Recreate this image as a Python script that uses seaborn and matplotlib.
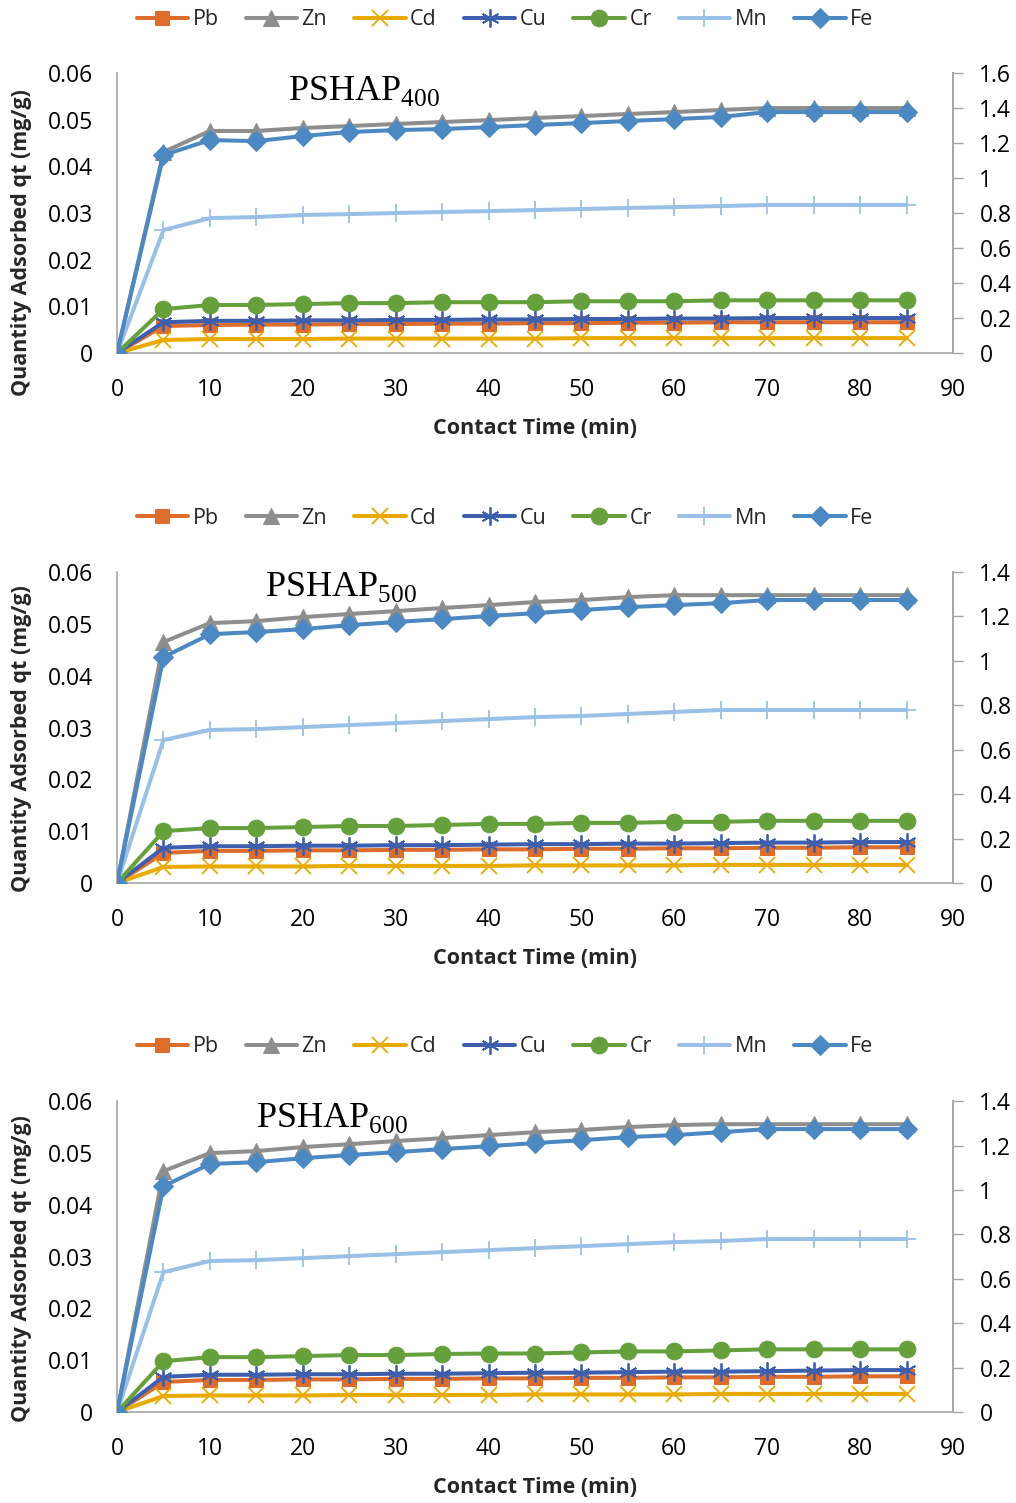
import matplotlib
matplotlib.use('Agg')
import matplotlib.pyplot as plt
import seaborn as sns

# Contact time (min)
time = [0, 5, 10, 15, 20, 25, 30, 35, 40, 45, 50, 55, 60, 65, 70, 75, 80, 85]

# PSHAP400 (Pb, Cd, Cu, Cr on left axis; Zn, Mn, Fe on right axis)
pb_400 = [0, 0.0058, 0.0060, 0.0061, 0.0061, 0.0062, 0.0062, 0.0063, 0.0063, 0.0064, 0.0064, 0.0065, 0.0065, 0.0066, 0.0066, 0.0066, 0.0066, 0.0066]
cd_400 = [0, 0.0028, 0.0030, 0.0030, 0.0030, 0.0031, 0.0031, 0.0031, 0.0031, 0.0031, 0.0032, 0.0032, 0.0032, 0.0032, 0.0032, 0.0032, 0.0032, 0.0032]
cu_400 = [0, 0.0066, 0.0069, 0.0069, 0.0070, 0.0070, 0.0071, 0.0071, 0.0072, 0.0072, 0.0073, 0.0073, 0.0074, 0.0074, 0.0075, 0.0075, 0.0075, 0.0075]
cr_400 = [0, 0.0094, 0.0103, 0.0103, 0.0105, 0.0107, 0.0107, 0.0109, 0.0109, 0.0109, 0.0111, 0.0111, 0.0111, 0.0113, 0.0113, 0.0113, 0.0113, 0.0113]
zn_400 = [0, 1.149, 1.269, 1.269, 1.286, 1.297, 1.309, 1.320, 1.331, 1.343, 1.354, 1.366, 1.377, 1.389, 1.400, 1.400, 1.400, 1.400]
mn_400 = [0, 0.703, 0.771, 0.777, 0.789, 0.794, 0.800, 0.806, 0.811, 0.817, 0.823, 0.829, 0.834, 0.840, 0.846, 0.846, 0.846, 0.846]
fe_400 = [0, 1.131, 1.217, 1.211, 1.240, 1.263, 1.274, 1.280, 1.291, 1.303, 1.314, 1.326, 1.337, 1.349, 1.377, 1.377, 1.377, 1.377]

# PSHAP500
pb_500 = [0, 0.0058, 0.0062, 0.0062, 0.0063, 0.0063, 0.0064, 0.0064, 0.0065, 0.0065, 0.0066, 0.0066, 0.0067, 0.0067, 0.0068, 0.0068, 0.0069, 0.0069]
cd_500 = [0, 0.0031, 0.0032, 0.0032, 0.0032, 0.0033, 0.0033, 0.0033, 0.0033, 0.0034, 0.0034, 0.0034, 0.0034, 0.0035, 0.0035, 0.0035, 0.0035, 0.0035]
cu_500 = [0, 0.0068, 0.0071, 0.0071, 0.0072, 0.0072, 0.0073, 0.0073, 0.0074, 0.0075, 0.0075, 0.0076, 0.0076, 0.0077, 0.0078, 0.0078, 0.0079, 0.0079]
cr_500 = [0, 0.0100, 0.0106, 0.0106, 0.0108, 0.0110, 0.0110, 0.0112, 0.0114, 0.0114, 0.0116, 0.0116, 0.0118, 0.0118, 0.0120, 0.0120, 0.0120, 0.0120]
zn_500 = [0, 1.085, 1.170, 1.179, 1.197, 1.211, 1.224, 1.238, 1.251, 1.265, 1.274, 1.287, 1.296, 1.296, 1.296, 1.296, 1.296, 1.296]
mn_500 = [0, 0.644, 0.689, 0.693, 0.702, 0.711, 0.720, 0.729, 0.738, 0.747, 0.752, 0.761, 0.770, 0.779, 0.779, 0.779, 0.779, 0.779]
fe_500 = [0, 1.017, 1.120, 1.130, 1.143, 1.161, 1.175, 1.188, 1.202, 1.215, 1.229, 1.242, 1.251, 1.260, 1.274, 1.274, 1.274, 1.274]

# PSHAP600
pb_600 = [0, 0.0058, 0.0062, 0.0062, 0.0063, 0.0063, 0.0064, 0.0064, 0.0065, 0.0065, 0.0066, 0.0066, 0.0067, 0.0067, 0.0068, 0.0068, 0.0069, 0.0069]
cd_600 = [0, 0.0031, 0.0032, 0.0032, 0.0032, 0.0033, 0.0033, 0.0033, 0.0033, 0.0034, 0.0034, 0.0034, 0.0034, 0.0035, 0.0035, 0.0035, 0.0035, 0.0035]
cu_600 = [0, 0.0068, 0.0072, 0.0072, 0.0073, 0.0073, 0.0074, 0.0074, 0.0075, 0.0076, 0.0076, 0.0077, 0.0078, 0.0078, 0.0079, 0.0080, 0.0081, 0.0081]
cr_600 = [0, 0.0098, 0.0106, 0.0106, 0.0108, 0.0110, 0.0110, 0.0112, 0.0113, 0.0113, 0.0115, 0.0117, 0.0117, 0.0119, 0.0121, 0.0121, 0.0121, 0.0121]
zn_600 = [0, 1.085, 1.166, 1.175, 1.193, 1.206, 1.220, 1.233, 1.247, 1.260, 1.270, 1.283, 1.292, 1.296, 1.296, 1.296, 1.296, 1.296]
mn_600 = [0, 0.630, 0.680, 0.684, 0.693, 0.702, 0.711, 0.720, 0.729, 0.738, 0.747, 0.756, 0.765, 0.770, 0.779, 0.779, 0.779, 0.779]
fe_600 = [0, 1.017, 1.117, 1.125, 1.143, 1.157, 1.170, 1.184, 1.197, 1.211, 1.224, 1.238, 1.247, 1.260, 1.274, 1.274, 1.274, 1.274]

metals = ['Pb', 'Zn', 'Cd', 'Cu', 'Cr', 'Mn', 'Fe']
right_axis_metals = ['Zn', 'Mn', 'Fe']

left_ticks = [0, 0.01, 0.02, 0.03, 0.04, 0.05, 0.06]
left_tick_labels = ['0', '0.01', '0.02', '0.03', '0.04', '0.05', '0.06']
x_ticks = [0, 10, 20, 30, 40, 50, 60, 70, 80, 90]

panels = [
    {'sub': '400', 'data': dict(Pb=pb_400, Zn=zn_400, Cd=cd_400, Cu=cu_400, Cr=cr_400, Mn=mn_400, Fe=fe_400),
     'rmax': 1.6, 'rticks': [0, 0.2, 0.4, 0.6, 0.8, 1, 1.2, 1.4, 1.6],
     'rlabels': ['0', '0.2', '0.4', '0.6', '0.8', '1', '1.2', '1.4', '1.6']},
    {'sub': '500', 'data': dict(Pb=pb_500, Zn=zn_500, Cd=cd_500, Cu=cu_500, Cr=cr_500, Mn=mn_500, Fe=fe_500),
     'rmax': 1.4, 'rticks': [0, 0.2, 0.4, 0.6, 0.8, 1, 1.2, 1.4],
     'rlabels': ['0', '0.2', '0.4', '0.6', '0.8', '1', '1.2', '1.4']},
    {'sub': '600', 'data': dict(Pb=pb_600, Zn=zn_600, Cd=cd_600, Cu=cu_600, Cr=cr_600, Mn=mn_600, Fe=fe_600),
     'rmax': 1.4, 'rticks': [0, 0.2, 0.4, 0.6, 0.8, 1, 1.2, 1.4],
     'rlabels': ['0', '0.2', '0.4', '0.6', '0.8', '1', '1.2', '1.4']},
]

# marker / colour styles per metal
styles = {
    'Pb': dict(color='#DC6D2C', marker='s', markersize=10),
    'Zn': dict(color='#8E8E8E', marker='^', markersize=11),
    'Cd': dict(color='#E8A900', marker='x', markersize=11, markeredgewidth=1.3),
    'Cu': dict(color='#3E5FAE', marker=(6, 2, 0), markersize=13, markeredgewidth=1.3),
    'Cr': dict(color='#65A03D', marker='o', markersize=12),
    'Mn': dict(color='#9BC0E5', marker='+', markersize=13, markeredgewidth=1.3),
    'Fe': dict(color='#4C89C3', marker='D', markersize=10),
}

sns.set_theme(style='white')
plt.rcParams['font.family'] = ['Open Sans', 'DejaVu Sans']
plt.rcParams['mathtext.fontset'] = 'custom'
plt.rcParams['mathtext.rm'] = 'Liberation Serif'

fig = plt.figure(figsize=(10.16, 15.03), dpi=100)

# axes positions (figure fractions)
ax_rects = [
    [0.1152, 0.7651, 0.8228, 0.1863],
    [0.1152, 0.4125, 0.8228, 0.2069],
    [0.1152, 0.0605, 0.8228, 0.2069],
]
legend_y = [0.9867, 0.6553, 0.3034]
title_pos = [(0.295, 0.904), (0.268, 0.923), (0.257, 0.916)]
ylabel_y = [0.396, 0.466, 0.463]
xlabel_y = [-0.232, -0.209, -0.209]

spine_color = '#A6A6A6'

for i, p in enumerate(panels):
    ax = fig.add_axes(ax_rects[i])
    ax2 = ax.twinx()
    handles = {}
    for m in metals:
        target = ax2 if m in right_axis_metals else ax
        st = styles[m]
        sns.lineplot(x=time, y=p['data'][m], ax=target, label=m, linewidth=2.9,
                     markeredgecolor=st['color'], legend=False, **st)
        handles[m] = target.lines[-1]

    ax.set_xlim(0, 90)
    ax.set_ylim(0, 0.06)
    ax2.set_ylim(0, p['rmax'])
    ax.set_xticks(x_ticks)
    ax.set_xticklabels([str(t) for t in x_ticks])
    ax.set_yticks(left_ticks)
    ax.set_yticklabels(left_tick_labels)
    ax2.set_yticks(p['rticks'])
    ax2.set_yticklabels(p['rlabels'])

    ax.tick_params(axis='both', length=0, labelsize=16.5, colors='black')
    ax.tick_params(axis='y', pad=17)
    ax.tick_params(axis='x', pad=18)
    ax2.tick_params(axis='y', length=7, width=1, color=spine_color, direction='out',
                    labelsize=16.5, pad=12, labelcolor='black')

    for a in (ax, ax2):
        a.spines['top'].set_visible(False)
        for s in ('left', 'bottom', 'right'):
            a.spines[s].set_color(spine_color)
            a.spines[s].set_linewidth(1.2)
        a.grid(False)
    ax2.spines['left'].set_visible(False)
    ax2.spines['bottom'].set_visible(False)

    ax.set_xlabel('Contact Time (min)', fontsize=15.5, fontweight='bold')
    ax.set_ylabel('Quantity Adsorbed qt (mg/g)', fontsize=15.5, fontweight='bold')
    ax.xaxis.set_label_coords(0.5, xlabel_y[i])
    ax.yaxis.set_label_coords(-0.1017, ylabel_y[i])
    ax2.set_ylabel('')

    ax.text(title_pos[i][0], title_pos[i][1], 'PSHAP$_{\\mathrm{' + p['sub'] + '}}$',
            transform=ax.transAxes, ha='center', va='baseline', fontsize=26,
            family='Liberation Serif', color='black', zorder=10)

    fig.legend([handles[m] for m in metals], metals, loc='center',
               bbox_to_anchor=(0.497, legend_y[i]), ncol=7, frameon=False,
               fontsize=15.5, handlelength=2.4, handletextpad=0.2, columnspacing=1.25)

fig.savefig('out.png', dpi=100)
